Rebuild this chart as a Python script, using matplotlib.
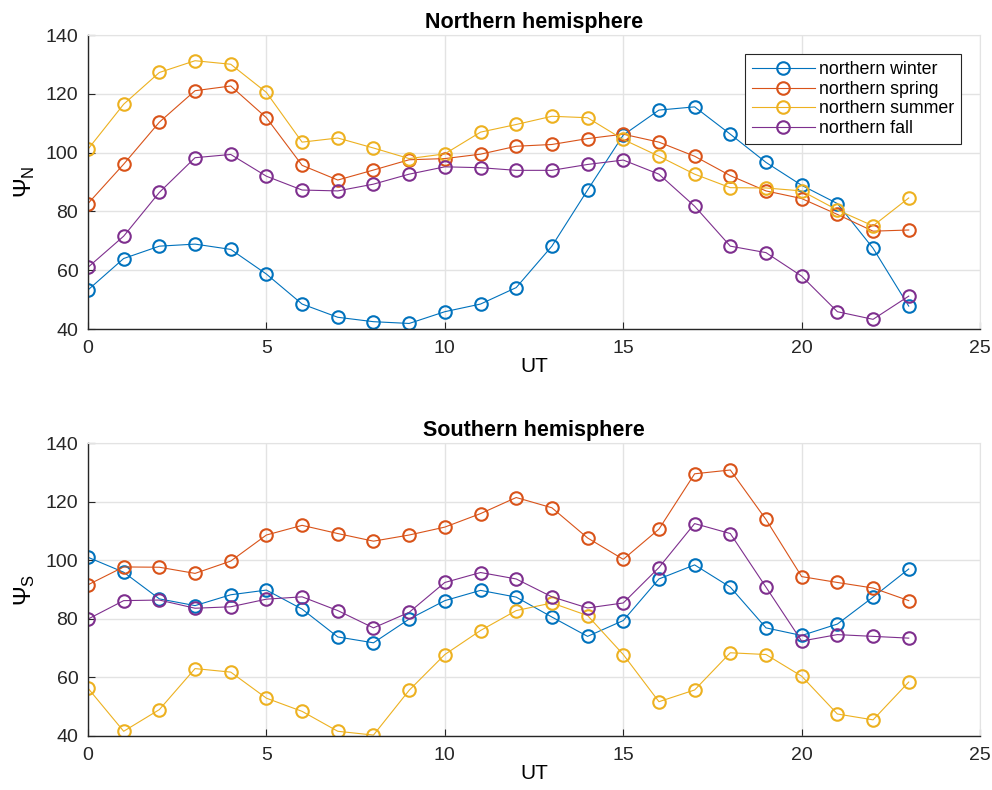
import matplotlib
matplotlib.use("Agg")
import matplotlib.pyplot as plt
import numpy as np

plt.rcParams["font.family"] = ["Liberation Sans", "DejaVu Sans"]
plt.rcParams["mathtext.fontset"] = "custom"
plt.rcParams["mathtext.rm"] = "Liberation Sans"
plt.rcParams["mathtext.it"] = "Liberation Sans"

ut = np.arange(24)
season_labels = ["northern winter", "northern spring", "northern summer", "northern fall"]
colors = ["#0072BD", "#D95319", "#EDB120", "#7E2F8E"]

# Northern hemisphere
psi_n_winter = [53.3, 64.0, 68.2, 68.9, 67.1, 58.7, 48.5, 44.0, 42.5, 41.9, 45.9, 48.5,
                54.1, 68.2, 87.3, 106.0, 114.5, 115.6, 106.3, 96.7, 88.9, 82.7, 67.5, 47.8]
psi_n_spring = [82.7, 96.1, 110.4, 121.1, 122.7, 111.9, 95.7, 90.7, 94.1, 97.6, 98.0, 99.5,
                102.2, 102.8, 104.8, 106.3, 103.6, 98.8, 92.2, 87.0, 84.4, 79.0, 73.3, 73.7]
psi_n_summer = [101.2, 116.5, 127.3, 131.3, 130.1, 120.5, 103.6, 105.0, 101.6, 98.0, 99.6, 107.0,
                109.6, 112.4, 111.9, 104.5, 98.8, 92.7, 88.1, 88.0, 87.0, 80.5, 75.1, 84.6]
psi_n_fall = [61.0, 71.6, 86.5, 98.3, 99.4, 92.0, 87.3, 87.0, 89.3, 92.7, 95.2, 94.9,
              94.0, 94.0, 96.0, 97.5, 92.7, 81.8, 68.2, 66.0, 58.0, 45.9, 43.3, 51.2]

# Southern hemisphere
psi_s_winter = [101.0, 95.9, 86.8, 84.5, 88.2, 89.8, 83.3, 73.8, 71.8, 79.9, 86.2, 89.7,
                87.4, 80.6, 74.0, 79.4, 93.6, 98.4, 90.8, 76.9, 74.3, 78.2, 87.4, 97.0]
psi_s_spring = [91.6, 97.7, 97.6, 95.5, 99.7, 108.6, 111.9, 109.1, 106.5, 108.6, 111.3, 115.9,
                121.4, 117.9, 107.6, 100.3, 110.6, 129.5, 130.8, 113.9, 94.4, 92.4, 90.5, 86.2]
psi_s_summer = [56.3, 41.6, 49.0, 63.0, 61.8, 52.9, 48.4, 41.6, 40.3, 55.6, 67.8, 76.0,
                82.8, 85.4, 81.1, 67.8, 51.7, 55.7, 68.4, 67.8, 60.4, 47.5, 45.5, 58.4]
psi_s_fall = [79.9, 86.2, 86.4, 83.6, 84.1, 86.7, 87.5, 82.8, 76.9, 82.2, 92.4, 95.8,
              93.6, 87.5, 83.7, 85.4, 97.5, 112.5, 109.1, 90.8, 72.4, 74.6, 74.0, 73.4]

panels = [
    ("Northern hemisphere", r"$\Psi_N$", [psi_n_winter, psi_n_spring, psi_n_summer, psi_n_fall]),
    ("Southern hemisphere", r"$\Psi_S$", [psi_s_winter, psi_s_spring, psi_s_summer, psi_s_fall]),
]

fig = plt.figure(figsize=(9.92, 7.9), dpi=100)
ax_top = fig.add_axes([0.0887, 0.5835, 0.8993, 0.372])
ax_bot = fig.add_axes([0.0887, 0.0684, 0.8993, 0.3708])

for ax, (title, ylab, series) in zip([ax_top, ax_bot], panels):
    for vals, lab, col in zip(series, season_labels, colors):
        ax.plot(ut, vals, "-o", color=col, label=lab, linewidth=0.8,
                markersize=9, markerfacecolor="none", markeredgewidth=1.5)
    ax.set_xlim(0, 25)
    ax.set_ylim(40, 140)
    ax.set_xticks(range(0, 26, 5))
    ax.set_yticks(range(40, 141, 20))
    ax.grid(True, color="#e3e3e3", linewidth=1.0)
    ax.set_axisbelow(True)
    for side in ["top", "right"]:
        ax.spines[side].set_color("#e3e3e3")
    for side in ["left", "bottom"]:
        ax.spines[side].set_color("#262626")
        ax.spines[side].set_linewidth(1.0)
    ax.tick_params(direction="in", length=5, labelsize=14, colors="#262626",
                   labelcolor="#262626")
    ax.tick_params(axis="x", pad=8)
    ax.tick_params(axis="y", pad=7)
    ax.set_title(title, fontsize=15.5, fontweight="bold", pad=5)
    ax.set_xlabel("UT", fontsize=15, labelpad=0)
    ax.set_ylabel(ylab, fontsize=17, labelpad=6)

leg = ax_top.legend(loc="upper right", bbox_to_anchor=(0.979, 0.936), fontsize=12.8,
                    fancybox=False, framealpha=1, edgecolor="#262626",
                    handlelength=3.5, borderpad=0.4, labelspacing=0.15,
                    handletextpad=0.25, borderaxespad=0)
leg.get_frame().set_linewidth(0.8)

fig.savefig("out.png", dpi=100)
